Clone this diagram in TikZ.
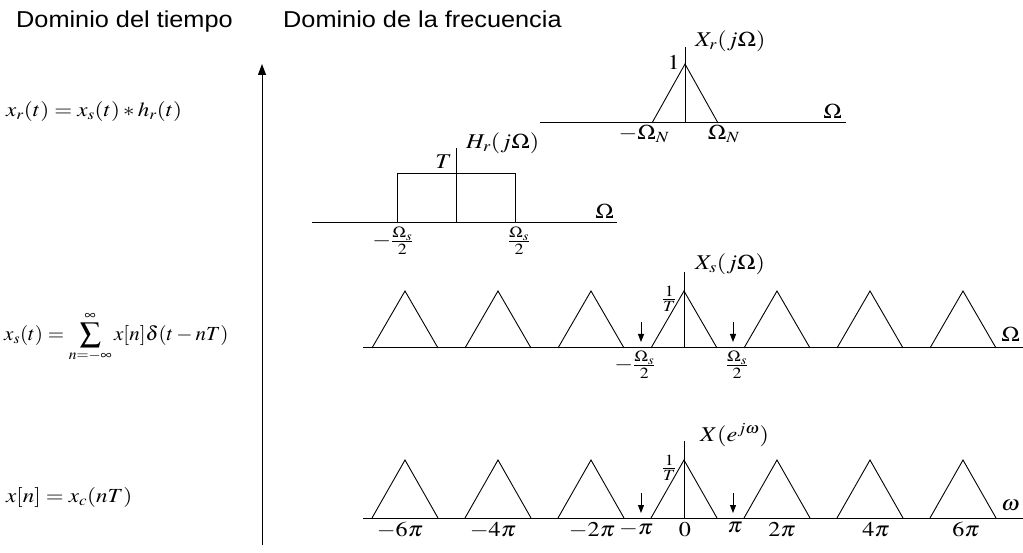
\documentclass[tikz,border=0pt]{standalone}
\usepackage{mathptmx}
\usepackage[no-math]{fontspec}
\setmainfont{Liberation Serif}
\newfontfamily\titlefont[FakeStretch=1.1]{Liberation Sans}
\usetikzlibrary{arrows.meta,positioning}
\newcommand{\st}[1]{\scalebox{1.15}[1]{#1}}

\begin{document}
\begin{tikzpicture}[
  x=1pt, y=-1pt,
  title/.style={font=\titlefont\fontsize{23}{27}\selectfont, inner sep=0pt, anchor=base west},
  eqn/.style={font=\fontsize{20}{24}\selectfont, inner sep=0pt, anchor=west},
  lbl/.style={font=\fontsize{21}{25}\selectfont, inner sep=1pt},
  axisline/.style={line width=1pt},
  spec/.style={line width=0.9pt},
  cutoff/.style={-{Triangle[length=8pt,width=6pt]}, line width=1pt},
  timearrow/.style={-{Triangle[length=11pt,width=8pt]}, line width=1pt}
]
  \useasboundingbox (0,0) rectangle (1023,553);

  % titles
  \node[title] (tdom) at (16,28) {Dominio del tiempo};
  \node[title] (fdom) at (283,28) {Dominio de la frecuencia};

  % time domain
  \node[eqn] (eqr) at (6,112) {\st{$x_r(t)=x_s(t)*h_r(t)$}};
  \node[eqn] (eqs) at (4,337) {\scalebox{1.05}[1]{$x_s(t)=\displaystyle\sum_{n=-\infty}^{\infty}x[n]\delta(t-nT)$}};
  \node[eqn] (eqn) at (6,497) {\st{$x[n]=x_c(nT)$}};
  \coordinate (tbot) at (262,545);
  \coordinate (ttop) at (262,64);
  \draw[timearrow] (tbot) -- (ttop);

  % X_r(j Omega)
  \coordinate (ra) at (540,123);
  \coordinate (rb) at (846,123);
  \coordinate (r0) at (685,123);
  \coordinate (rtop) at (685,47);
  \draw[axisline] (ra) -- (rb);
  \draw[axisline] (r0) -- (rtop);
  \draw[spec] (652,123) -- (685,64) -- (718,123);
  \node[lbl, anchor=east] (rone) at (681,62) {\st{$1$}};
  \node[lbl, anchor=west] (rname) at (694,41) {\st{$X_r(j\Omega)$}};
  \node[lbl, anchor=south east] (rom) at (843,120) {\st{$\Omega$}};
  \node[lbl, anchor=north] (rneg) at (644,124) {\st{$-\Omega_N$}};
  \node[lbl, anchor=north] (rpos) at (724,124) {\st{$\Omega_N$}};

  % H_r(j Omega)
  \coordinate (ha) at (312,223);
  \coordinate (hb) at (617,223);
  \coordinate (h0) at (456,223);
  \coordinate (htop) at (456,148);
  \draw[axisline] (ha) -- (hb);
  \draw[axisline] (h0) -- (htop);
  \draw[spec] (397,223) -- (397,173) -- (515,173) -- (515,223);
  \node[lbl, anchor=east] (hT) at (453,162) {\st{$T$}};
  \node[lbl, anchor=west] (hname) at (465,143) {\st{$H_r(j\Omega)$}};
  \node[lbl, anchor=south east] (hom) at (615,220) {\st{$\Omega$}};
  \node[lbl, anchor=north east] (hneg) at (415,226) {\st{$-\frac{\Omega_s}{2}$}};
  \node[lbl, anchor=north] (hpos) at (519,226) {\st{$\frac{\Omega_s}{2}$}};

  % X_s(j Omega)
  \coordinate (sa) at (363,348);
  \coordinate (sb) at (1023,348);
  \coordinate (s0) at (684,348);
  \coordinate (stop) at (684,272);
  \draw[axisline] (sa) -- (sb);
  \draw[axisline] (s0) -- (stop);
  \foreach \k in {-3,...,3}
    \draw[spec] ({684+93*\k-33},348) -- ({684+93*\k},291) -- ({684+93*\k+33},348);
  \coordinate (sla) at (641,322);
  \coordinate (slb) at (641,342);
  \coordinate (sra) at (733,322);
  \coordinate (srb) at (733,342);
  \draw[cutoff] (sla) -- (slb);
  \draw[cutoff] (sra) -- (srb);
  \node[lbl, anchor=east] (sinv) at (678,299) {\st{$\frac{1}{T}$}};
  \node[lbl, anchor=west] (sname) at (694,264) {\st{$X_s(j\Omega)$}};
  \node[lbl, anchor=south east] (som) at (1021,343) {\st{$\Omega$}};
  \node[lbl, anchor=north east] (sneg) at (657,350) {\st{$-\frac{\Omega_s}{2}$}};
  \node[lbl, anchor=north] (spos) at (737,350) {\st{$\frac{\Omega_s}{2}$}};

  % X(e^{j omega})
  \coordinate (da) at (363,518);
  \coordinate (db) at (1023,518);
  \coordinate (d0) at (684,518);
  \coordinate (dtop) at (684,441);
  \draw[axisline] (da) -- (db);
  \draw[axisline] (d0) -- (dtop);
  \foreach \k in {-3,...,3}
    \draw[spec] ({684+93*\k-33},518) -- ({684+93*\k},460) -- ({684+93*\k+33},518);
  \coordinate (dla) at (641,493);
  \coordinate (dlb) at (641,513);
  \coordinate (dra) at (733,493);
  \coordinate (drb) at (733,513);
  \draw[cutoff] (dla) -- (dlb);
  \draw[cutoff] (dra) -- (drb);
  \node[lbl, anchor=east] (dinv) at (678,468) {\st{$\frac{1}{T}$}};
  \node[lbl, anchor=west] (dname) at (699,435) {\st{$X(e^{j\omega})$}};
  \node[lbl, anchor=south east] (dom) at (1021,512) {\st{$\omega$}};
  \node[lbl, anchor=north] (dm6) at (400,521) {\st{$-6\pi$}};
  \node[lbl, anchor=north] (dm4) at (493,521) {\st{$-4\pi$}};
  \node[lbl, anchor=north] (dm2) at (592,521) {\st{$-2\pi$}};
  \node[lbl, anchor=north] (dm1) at (636,521) {\st{$-\pi$}};
  \node[lbl, anchor=north] (dz) at (685,521) {\st{$0$}};
  \node[lbl, anchor=north] (dp1) at (735,521) {\st{$\pi$}};
  \node[lbl, anchor=north] (dp2) at (782,521) {\st{$2\pi$}};
  \node[lbl, anchor=north] (dp4) at (876,521) {\st{$4\pi$}};
  \node[lbl, anchor=north] (dp6) at (966,521) {\st{$6\pi$}};
\end{tikzpicture}
\end{document}
